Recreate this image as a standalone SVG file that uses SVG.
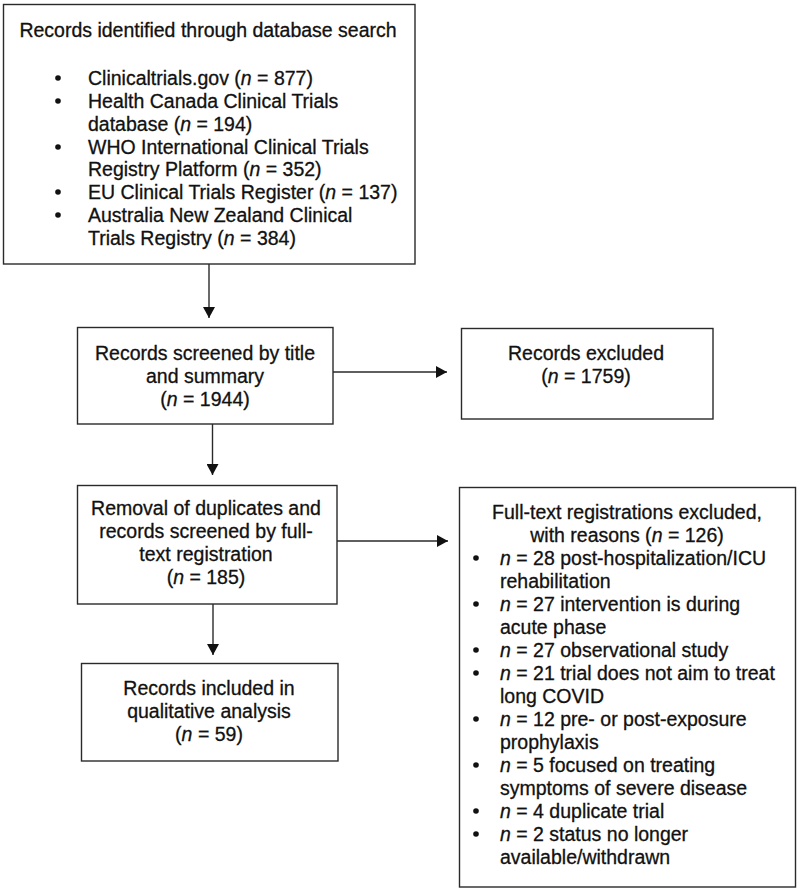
<svg xmlns="http://www.w3.org/2000/svg" width="800" height="891" viewBox="0 0 800 891">
<style>
.box{fill:#fff;stroke:#2a2a2a;stroke-width:1.4}
text{font-family:"Liberation Sans",Arial,sans-serif;font-size:19.5px;fill:#111;stroke:#111;stroke-width:0.3}
.c{text-anchor:middle}
.i{font-style:italic}
.bl{fill:#111}
.conn line{stroke:#2a2a2a;stroke-width:1.4;fill:none}
</style>
<defs>
<marker id="ah" markerUnits="userSpaceOnUse" markerWidth="12" markerHeight="12" refX="11" refY="6" orient="auto">
<path d="M0,0 L11,6 L0,12 z" fill="#111"/>
</marker>
</defs>
<rect width="800" height="891" fill="#fff"/>

<g id="identified">
<rect class="box" x="3.5" y="4.5" width="411.5" height="259.5"/>
<text x="208" y="37" class="c">Records identified through database search</text>
<g class="bl">
<circle cx="58" cy="78" r="2.8"/><circle cx="58" cy="101" r="2.8"/><circle cx="58" cy="147" r="2.8"/><circle cx="58" cy="192" r="2.8"/><circle cx="58" cy="215" r="2.8"/>
</g>
<text x="88" y="85">Clinicaltrials.gov (<tspan class="i">n</tspan> = 877)</text>
<text x="88" y="108">Health Canada Clinical Trials</text>
<text x="88" y="131">database (<tspan class="i">n</tspan> = 194)</text>
<text x="88" y="154">WHO International Clinical Trials</text>
<text x="88" y="176">Registry Platform (<tspan class="i">n</tspan> = 352)</text>
<text x="88" y="199">EU Clinical Trials Register (<tspan class="i">n</tspan> = 137)</text>
<text x="88" y="222">Australia New Zealand Clinical</text>
<text x="88" y="245">Trials Registry (<tspan class="i">n</tspan> = 384)</text>
</g>

<g id="screened">
<rect class="box" x="77.5" y="327.5" width="255.5" height="96.5"/>
<text x="205" y="360" class="c">Records screened by title</text>
<text x="205" y="383" class="c">and summary</text>
<text x="205" y="406" class="c">(<tspan class="i">n</tspan> = 1944)</text>
</g>

<g id="excluded">
<rect class="box" x="461.5" y="328.5" width="251.5" height="90.5"/>
<text x="586" y="360" class="c">Records excluded</text>
<text x="586" y="383" class="c">(<tspan class="i">n</tspan> = 1759)</text>
</g>

<g id="fulltext">
<rect class="box" x="77.5" y="485.5" width="259.5" height="118.5"/>
<text x="206" y="515" class="c">Removal of duplicates and</text>
<text x="206" y="538" class="c">records screened by full-</text>
<text x="206" y="561" class="c">text registration</text>
<text x="206" y="584" class="c">(<tspan class="i">n</tspan> = 185)</text>
</g>

<g id="ftexcluded">
<rect class="box" x="459.5" y="487.5" width="336" height="399.5"/>
<text x="627" y="519" class="c">Full-text registrations excluded,</text>
<text x="627" y="542" class="c">with reasons (<tspan class="i">n</tspan> = 126)</text>
<g class="bl">
<circle cx="476" cy="558" r="2.8"/><circle cx="476" cy="604" r="2.8"/><circle cx="476" cy="650" r="2.8"/><circle cx="476" cy="673" r="2.8"/><circle cx="476" cy="719" r="2.8"/><circle cx="476" cy="765" r="2.8"/><circle cx="476" cy="811" r="2.8"/><circle cx="476" cy="834" r="2.8"/>
</g>
<text x="500" y="565"><tspan class="i">n</tspan> = 28 post-hospitalization/ICU</text>
<text x="500" y="588">rehabilitation</text>
<text x="500" y="611"><tspan class="i">n</tspan> = 27 intervention is during</text>
<text x="500" y="634">acute phase</text>
<text x="500" y="657"><tspan class="i">n</tspan> = 27 observational study</text>
<text x="500" y="680"><tspan class="i">n</tspan> = 21 trial does not aim to treat</text>
<text x="500" y="703">long COVID</text>
<text x="500" y="726"><tspan class="i">n</tspan> = 12 pre- or post-exposure</text>
<text x="500" y="749">prophylaxis</text>
<text x="500" y="772"><tspan class="i">n</tspan> = 5 focused on treating</text>
<text x="500" y="795">symptoms of severe disease</text>
<text x="500" y="818"><tspan class="i">n</tspan> = 4 duplicate trial</text>
<text x="500" y="841"><tspan class="i">n</tspan> = 2 status no longer</text>
<text x="500" y="864">available/withdrawn</text>
</g>

<g id="included">
<rect class="box" x="81.5" y="663.5" width="256.5" height="97.5"/>
<text x="209" y="695" class="c">Records included in</text>
<text x="209" y="718" class="c">qualitative analysis</text>
<text x="209" y="741" class="c">(<tspan class="i">n</tspan> = 59)</text>
</g>

<g id="connectors" class="conn">
<line x1="209" y1="264" x2="209" y2="318" marker-end="url(#ah)"/>
<line x1="333" y1="372" x2="447" y2="372" marker-end="url(#ah)"/>
<line x1="212.5" y1="424" x2="212.5" y2="475" marker-end="url(#ah)"/>
<line x1="337" y1="541" x2="448" y2="541" marker-end="url(#ah)"/>
<line x1="213" y1="604" x2="213" y2="655" marker-end="url(#ah)"/>
</g>
</svg>
